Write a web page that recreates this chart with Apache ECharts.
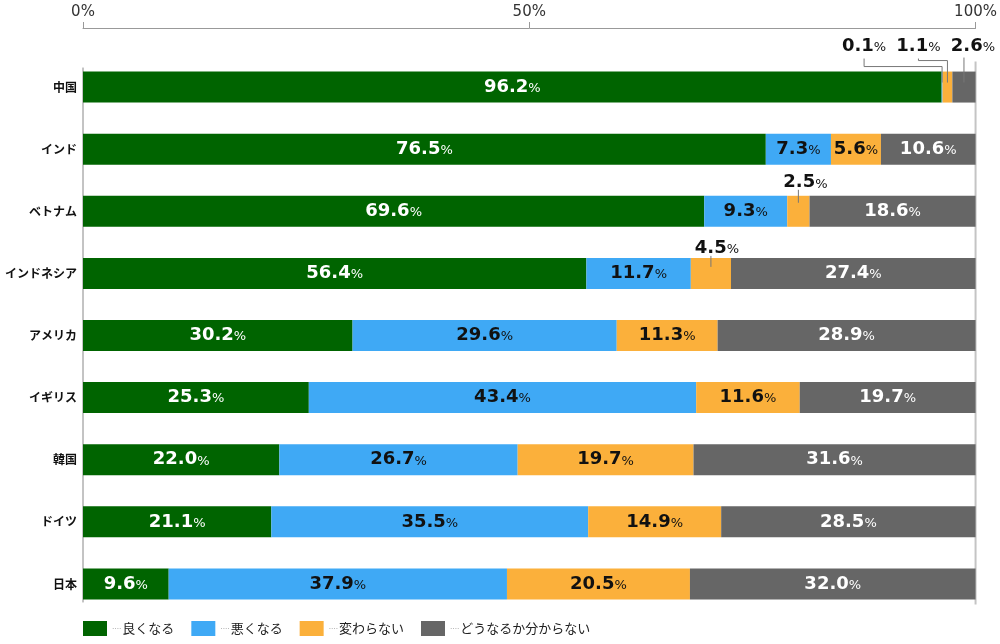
<!DOCTYPE html>
<html>
<head>
<meta charset="utf-8">
<script src="https://cdn.jsdelivr.net/npm/echarts@6/dist/echarts.min.js"></script>
<style>
  html, body { margin: 0; padding: 0; background: #fff; }
  #chart { width: 1000px; height: 644px; }
</style>
</head>
<body>
<div id="chart"></div>
<script>
// 国別 今後の見通し（%）
var countries = ['中国', 'インド', 'ベトナム', 'インドネシア', 'アメリカ', 'イギリス', '韓国', 'ドイツ', '日本'];
var seriesNames = ['良くなる', '悪くなる', '変わらない', 'どうなるか分からない'];
var good    = [96.2, 76.5, 69.6, 56.4, 30.2, 25.3, 22.0, 21.1, 9.6];
var bad     = [0.1, 7.3, 9.3, 11.7, 29.6, 43.4, 26.7, 35.5, 37.9];
var same    = [1.1, 5.6, 2.5, 4.5, 11.3, 11.6, 19.7, 14.9, 20.5];
var unknown = [2.6, 10.6, 18.6, 27.4, 28.9, 19.7, 31.6, 28.5, 32.0];
var xTickLabels = ['0%', '50%', '100%'];

var colors = ['#006400', '#3fa9f5', '#fbb03b', '#666666'];
var labelColors = ['#fff', '#111', '#111', '#fff'];

// 細いセグメントは棒の上に引き出し線付きで表示
// row: 国, s: 系列, dx: ラベルの横ずれ, up: ラベル中心の高さ(棒上端から)
// from: 線の始点(棒上端から上), elbow: 折れ位置(棒上端から上), into: 棒の中への長さ
var callouts = [
  {row: 0, s: 1, dx: -78, up: 25, from: 13, elbow: 5,  into: 11},
  {row: 0, s: 2, dx: -29, up: 25, from: 13, elbow: 11, into: 11},
  {row: 0, s: 3, dx: 9,   up: 25, from: 14, elbow: null, into: 11},
  {row: 2, s: 2, dx: 7,   up: 13, from: 6,  elbow: null, into: 7},
  {row: 3, s: 2, dx: 6,   up: 10, from: 2,  elbow: null, into: 9}
];

var allValues = [good, bad, same, unknown];
var barW = 31;

function findCallout(s, i) {
  for (var k = 0; k < callouts.length; k++) {
    if (callouts[k].s === s && callouts[k].row === i) return callouts[k];
  }
  return null;
}

var series = allValues.map(function (vals, s) {
  return {
    name: seriesNames[s],
    type: 'bar',
    stack: 'total',
    barWidth: barW,
    itemStyle: {color: colors[s]},
    label: {
      show: true,
      position: 'inside',
      color: labelColors[s],
      formatter: function (p) {
        return '{n|' + p.value.toFixed(1) + '}{p|%}';
      },
      rich: {
        n: {fontFamily: 'DejaVu Sans', fontWeight: 'bold', fontSize: 18},
        p: {fontFamily: 'DejaVu Sans', fontSize: 13, padding: [3, 0, 0, 0]}
      }
    },
    data: vals.map(function (v, i) {
      var c = findCallout(s, i);
      if (!c) return v;
      return {
        value: v,
        label: {
          position: ['50%', -c.up],
          align: 'center',
          verticalAlign: 'middle',
          offset: [c.dx, 0],
          color: '#111'
        }
      };
    })
  };
});

var myChart = echarts.init(document.getElementById('chart'));
var option = {
  animation: false,
  grid: {left: 83, right: 24, top: 56, bottom: 29},
  legend: {
    left: 83,
    top: 621,
    padding: 0,
    itemWidth: 24,
    itemHeight: 15,
    itemGap: 17,
    icon: 'rect',
    data: seriesNames,
    formatter: function (name) {
      return '{d|····}{t|' + name + '}';
    },
    textStyle: {
      rich: {
        d: {fontSize: 7, color: '#999', padding: [1, 1, 0, 0]},
        t: {fontSize: 13, color: '#222', fontFamily: 'Noto Sans CJK JP'}
      }
    }
  },
  xAxis: {
    type: 'value',
    position: 'top',
    offset: 28,
    min: 0,
    max: 100,
    interval: 50,
    axisLine: {show: true, lineStyle: {color: '#999'}},
    axisTick: {show: true, length: 6, lineStyle: {color: '#999'}},
    splitLine: {show: false},
    axisLabel: {
      margin: 8,
      fontSize: 15,
      color: '#333',
      fontFamily: 'DejaVu Sans',
      formatter: function (v) { return xTickLabels[v / 50]; }
    }
  },
  yAxis: {
    type: 'category',
    inverse: true,
    data: countries,
    axisLine: {show: false},
    axisTick: {show: false},
    axisLabel: {
      margin: 6,
      fontSize: 12,
      color: '#111',
      fontWeight: 'bold',
      fontFamily: 'Noto Sans CJK JP'
    }
  },
  series: series
};
myChart.setOption(option);

// 縦の線と引き出し線
var graphics = [];
var pTop = myChart.convertToPixel({gridIndex: 0}, [0, 0]);
var pBot = myChart.convertToPixel({gridIndex: 0}, [100, countries.length - 1]);
graphics.push({
  type: 'line',
  shape: {x1: pTop[0], y1: pTop[1] - barW / 2 - 4, x2: pTop[0], y2: pBot[1] + barW / 2 + 3},
  style: {stroke: '#888', lineWidth: 1}
});
graphics.push({
  type: 'line',
  shape: {x1: pBot[0], y1: pTop[1] - barW / 2 - 10, x2: pBot[0], y2: pBot[1] + barW / 2 + 5},
  style: {stroke: '#c4c4c4', lineWidth: 2}
});

callouts.forEach(function (c) {
  var start = 0;
  for (var k = 0; k < c.s; k++) start += allValues[k][c.row];
  var mid = start + allValues[c.s][c.row] / 2;
  var p = myChart.convertToPixel({gridIndex: 0}, [mid, c.row]);
  var top = p[1] - barW / 2;
  var lx = p[0] + c.dx;
  var pts;
  if (c.elbow !== null) {
    pts = [[lx, top - c.from], [lx, top - c.elbow], [p[0], top - c.elbow], [p[0], top + c.into]];
  } else {
    pts = [[p[0], top - c.from], [p[0], top + c.into]];
  }
  graphics.push({
    type: 'polyline',
    z: 10,
    shape: {points: pts},
    style: {stroke: '#777', lineWidth: 1, fill: null}
  });
});

myChart.setOption({graphic: graphics});
</script>
</body>
</html>
